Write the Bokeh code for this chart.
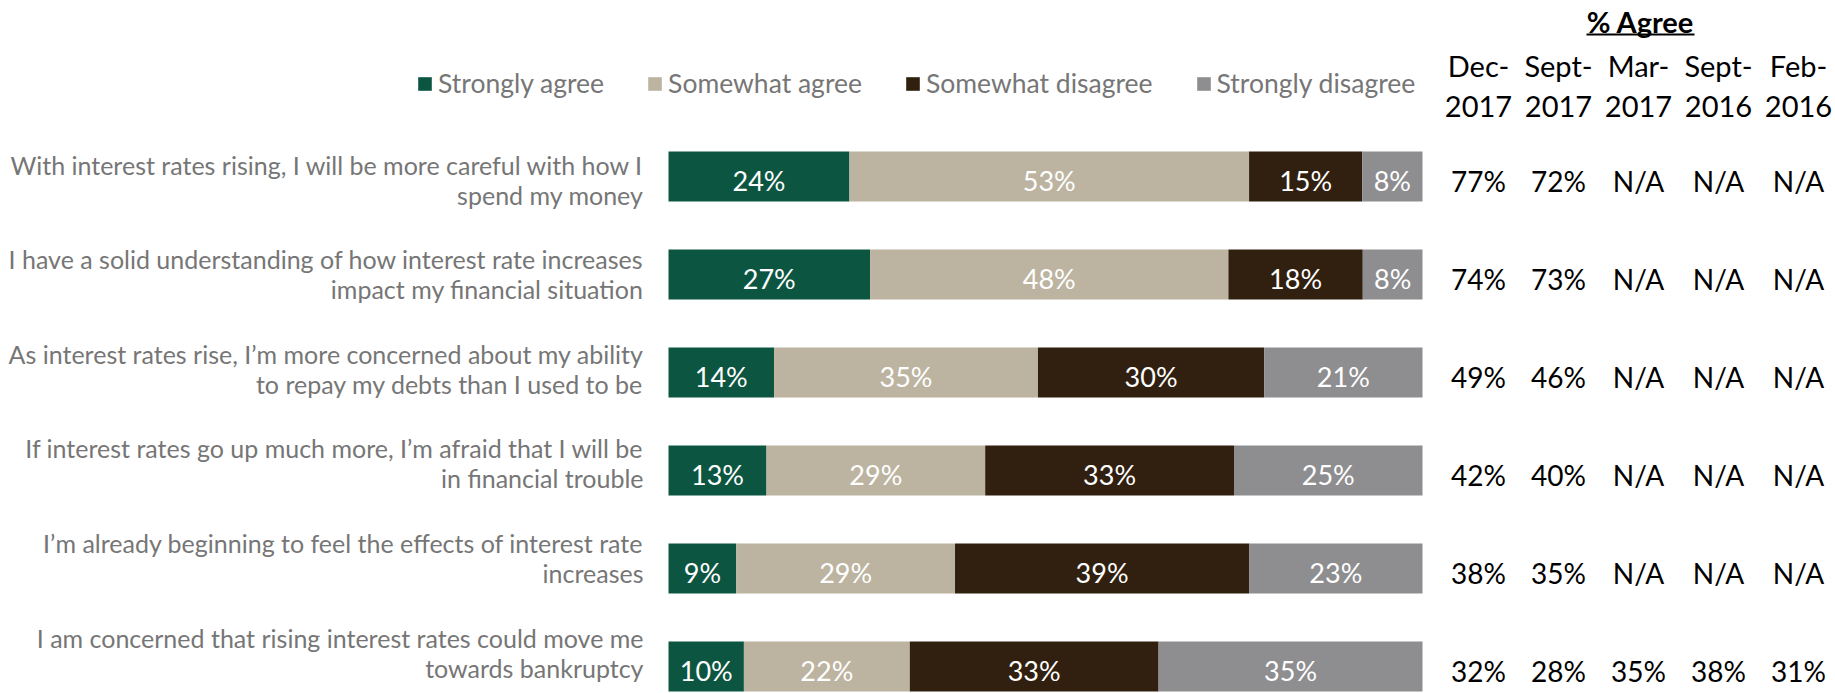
from bokeh.plotting import figure
from bokeh.models import Range1d, ColumnDataSource
from bokeh.core.properties import value
from bokeh.embed import file_html
from bokeh.resources import INLINE
import numpy as np

# ---------------- data ----------------
categories = [
    "With interest rates rising, I will be more careful with how I\nspend my money",
    "I have a solid understanding of how interest rate increases\nimpact my financial situation",
    "As interest rates rise, I\u2019m more concerned about my ability\nto repay my debts than I used to be",
    "If interest rates go up much more, I\u2019m afraid that I will be\nin financial trouble",
    "I\u2019m already beginning to feel the effects of interest rate\nincreases",
    "I am concerned that rising interest rates could move me\ntowards bankruptcy",
]
series_names = ["Strongly agree", "Somewhat agree", "Somewhat disagree", "Strongly disagree"]
strongly_agree = [24, 27, 14, 13, 9, 10]
somewhat_agree = [53, 48, 35, 29, 29, 22]
somewhat_disagree = [15, 18, 30, 33, 39, 33]
strongly_disagree = [8, 8, 21, 25, 23, 35]

table_title = "% Agree"
period_top = ["Dec-", "Sept-", "Mar-", "Sept-", "Feb-"]
period_bottom = ["2017", "2017", "2017", "2016", "2016"]
agree_dec_2017 = ["77%", "74%", "49%", "42%", "38%", "32%"]
agree_sept_2017 = ["72%", "73%", "46%", "40%", "35%", "28%"]
agree_mar_2017 = ["N/A", "N/A", "N/A", "N/A", "N/A", "35%"]
agree_sept_2016 = ["N/A", "N/A", "N/A", "N/A", "N/A", "38%"]
agree_feb_2016 = ["N/A", "N/A", "N/A", "N/A", "N/A", "31%"]

# ---------------- layout / style ----------------
W, H = 1835, 693
BAR_LEFT_PX, BAR_RIGHT_PX = 668, 1422
ROW0_PX, ROW_STEP_PX = 176, 98
BAR_H_PX = 50
LABEL0_PX, LABEL_STEP_PX = 179, 94.6   # category text block pitch
PX_PER_PCT = (BAR_RIGHT_PX - BAR_LEFT_PX) / 100.0

def xu(px):
    return (px - BAR_LEFT_PX) / PX_PER_PCT

def yu(px):
    return (px - ROW0_PX) / ROW_STEP_PX

colors = ["#0C5641", "#BCB4A0", "#31200F", "#8E8E90"]
label_grey = "#767676"
FONT = value("Lato")

p = figure(width=W, height=H, output_backend="svg", toolbar_location=None,
           x_range=Range1d(xu(0), xu(W)), y_range=Range1d(yu(H), yu(0)),
           min_border=0, outline_line_color=None)
p.axis.visible = False
p.grid.visible = False
p.background_fill_color = "white"
p.border_fill_color = "white"

idx = np.arange(len(categories))
vals = np.array([strongly_agree, somewhat_agree, somewhat_disagree, strongly_disagree], dtype=float)
totals = vals.sum(axis=0)
shares = vals / totals * 100.0  # 100% stacked
keys = ["s0", "s1", "s2", "s3"]
src = ColumnDataSource(dict(y=idx, **{k: shares[i] for i, k in enumerate(keys)}))

p.hbar_stack(keys, y="y", height=BAR_H_PX / ROW_STEP_PX, color=colors, source=src,
             line_color=None, legend_label=series_names)

# bar value labels
text_dy = yu(ROW0_PX + 4)
lefts = np.cumsum(shares, axis=0) - shares
for i in range(4):
    centers = lefts[i] + shares[i] / 2
    p.text(x=centers, y=idx + text_dy, text=[f"{int(v)}%" for v in vals[i]],
           text_font=FONT, text_font_size="27px", text_color="white",
           text_align="center", text_baseline="middle")

# category labels
label_y = [yu(LABEL0_PX + LABEL_STEP_PX * i) for i in idx]
p.text(x=[xu(643)] * len(categories), y=label_y, text=categories,
       text_font=FONT, text_font_size="25px", text_color=label_grey,
       text_align="right", text_baseline="middle", text_line_height=1.0)

# legend
lg = p.legend[0]
lg.orientation = "horizontal"
lg.location = (416, H - 99)
lg.margin = 0
lg.padding = 0
lg.spacing = 42
lg.label_standoff = 5
lg.glyph_width = 17
lg.glyph_height = 17
lg.label_text_font = "Lato"
lg.label_text_font_size = "26.5px"
lg.label_text_color = label_grey
lg.border_line_color = None
lg.background_fill_alpha = 0

# table
col_px = [1478, 1558, 1638, 1718, 1798]
col_vals = [agree_dec_2017, agree_sept_2017, agree_mar_2017, agree_sept_2016, agree_feb_2016]
for cx, cv in zip(col_px, col_vals):
    p.text(x=[xu(cx)] * len(cv), y=idx + yu(ROW0_PX + 4), text=cv,
           text_font=FONT, text_font_size="28px", text_color="black",
           text_align="center", text_baseline="middle")
p.text(x=[xu(c) for c in col_px], y=[yu(65)] * 5, text=period_top,
       text_font=FONT, text_font_size="29px", text_color="black",
       text_align="center", text_baseline="middle")
p.text(x=[xu(c) for c in col_px], y=[yu(106)] * 5, text=period_bottom,
       text_font=FONT, text_font_size="29px", text_color="black",
       text_align="center", text_baseline="middle")
p.text(x=[xu(1640)], y=[yu(21)], text=[table_title],
       text_font=FONT, text_font_size="29px", text_font_style="bold",
       text_color="black", text_align="center", text_baseline="middle")
p.segment(x0=[xu(1586)], y0=[yu(34)], x1=[xu(1694)], y1=[yu(34)],
          line_color="black", line_width=2)

open("out.html", "w").write(file_html(p, INLINE))
